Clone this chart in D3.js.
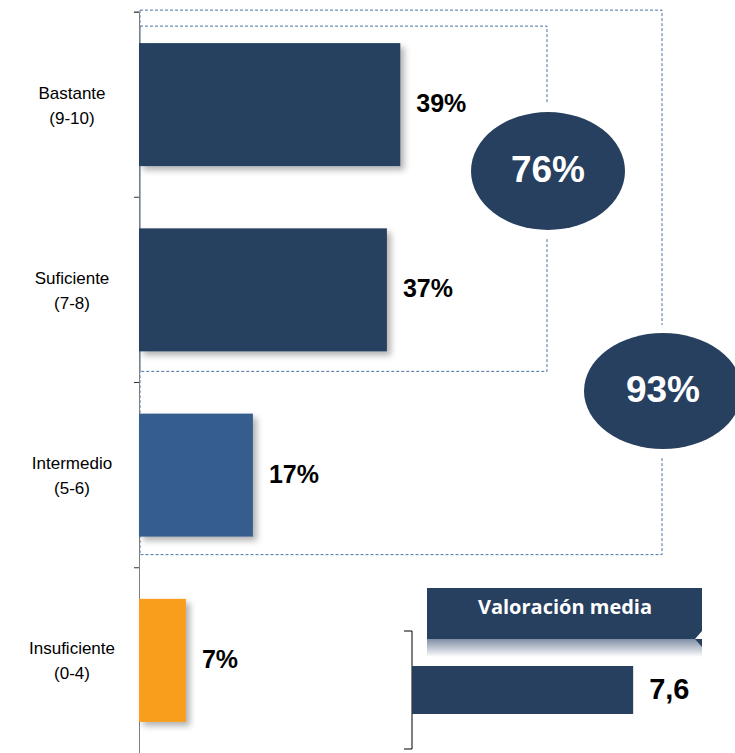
<!DOCTYPE html>
<html><head><meta charset="utf-8">
<script src="https://cdn.jsdelivr.net/npm/d3@7"></script>
<style>body{margin:0;background:#fff}svg{display:block}</style>
</head><body>
<script>
const categories = ["Bastante", "Suficiente", "Intermedio", "Insuficiente"];
const categoryRanges = ["(9-10)", "(7-8)", "(5-6)", "(0-4)"];
const values = [39, 37, 17, 7];
const valueLabels = ["39%", "37%", "17%", "7%"];
const barColors = ["#27405f", "#27405f", "#355d8e", "#f99d1c"];
const groupLabels = ["76%", "93%"];
const groupSizes = [2, 3];
const meanTitle = "Valoración media";
const meanValue = 7.6;
const meanLabel = "7,6";

const W = 735, H = 753;
const svg = d3.select("body").append("svg").attr("width", W).attr("height", H);
const defs = svg.append("defs");
const f = defs.append("filter").attr("id","sh").attr("x","-10%").attr("y","-10%").attr("width","130%").attr("height","130%");
f.append("feDropShadow").attr("dx",4).attr("dy",4).attr("stdDeviation",3).attr("flood-color","#000").attr("flood-opacity",0.3);
const g = defs.append("linearGradient").attr("id","refl").attr("x1",0).attr("y1",0).attr("x2",0).attr("y2",1);
g.append("stop").attr("offset","0%").attr("stop-color","#7f8ea6");
g.append("stop").attr("offset","100%").attr("stop-color","#ffffff");

const y = d3.scaleBand().domain(categories).range([12, 753]).paddingInner(0.336).paddingOuter(0.168);
const x = d3.scaleLinear().domain([0, 100]).range([139, 809]);

// dashed group boxes
const dash = "#4a72a8";
const boxRight = [547, 662];
groupSizes.forEach((n, i) => {
  const top = y(categories[0]) - (i === 0 ? 17 : 33);
  const last = categories[n - 1];
  const bottom = y(last) + y.bandwidth() + (i === 0 ? 20 : 18);
  svg.append("path")
    .attr("d", `M${x(0)+1},${top}H${boxRight[i]}V${bottom}H${x(0)+1}Z`)
    .attr("fill","none").attr("stroke",dash).attr("stroke-width",1).attr("stroke-dasharray","3,2");
});

// axis
const axis = d3.axisLeft(y).tickSize(5).tickFormat("");
const ax = svg.append("g").attr("transform",`translate(${x(0)},0)`).call(axis);
ax.select(".domain").attr("stroke","#808080");
ax.selectAll(".tick").remove();
[12, 12+y.step(), 12+2*y.step(), 12+3*y.step()].forEach(t => {
  ax.append("line").attr("x1",-5).attr("x2",0).attr("y1",t).attr("y2",t).attr("stroke","#333");
});

// bars
svg.selectAll("rect.bar").data(values).join("rect").attr("class","bar")
  .attr("x", x(0)).attr("y", (d,i)=>y(categories[i]))
  .attr("width", d => x(d)-x(0)).attr("height", y.bandwidth())
  .attr("fill", (d,i)=>barColors[i]).attr("filter","url(#sh)");

svg.selectAll("text.val").data(values).join("text").attr("class","val")
  .attr("x", d => x(d) + 16).attr("y", (d,i)=>y(categories[i]) + y.bandwidth()/2 + 1)
  .attr("dominant-baseline","middle")
  .attr("font-family","Liberation Sans, Arial, sans-serif").attr("font-weight","bold").attr("font-size",25)
  .attr("fill","#000").text((d,i)=>valueLabels[i]);

// category labels
categories.forEach((c,i) => {
  const cy = y(c) + y.bandwidth()/2;
  const t = svg.append("text").attr("text-anchor","middle")
    .attr("font-family","Liberation Sans, Arial, sans-serif").attr("font-size",17).attr("fill","#000");
  t.append("tspan").attr("x",72).attr("y",cy-6).text(c);
  t.append("tspan").attr("x",72).attr("y",cy+19).text(categoryRanges[i]);
});

// ellipses
const ell = [{cx:548, cy:171, rx:77, ry:59}, {cx:663, cy:391, rx:79, ry:58}];
groupLabels.forEach((lab,i) => {
  const e = ell[i];
  svg.append("ellipse").attr("cx",e.cx).attr("cy",e.cy).attr("rx",e.rx+6).attr("ry",e.ry+8).attr("fill","#fff");
  svg.append("ellipse").attr("cx",e.cx).attr("cy",e.cy).attr("rx",e.rx).attr("ry",e.ry).attr("fill","#27405f");
  svg.append("text").attr("x",e.cx).attr("y",e.cy+1).attr("text-anchor","middle").attr("dominant-baseline","middle")
    .attr("font-family","Liberation Sans, Arial, sans-serif").attr("font-weight","bold").attr("font-size",37)
    .attr("fill","#fff").text(lab);
});

// mean panel
const mx = d3.scaleLinear().domain([0, 10]).range([412, 703]);
svg.append("rect").attr("x",427).attr("y",639).attr("width",275).attr("height",18).attr("fill","url(#refl)");
svg.append("path").attr("d","M427,588H702V631L695,639L702,647V639H427Z").attr("fill","#27405f");
svg.append("text").attr("x",565).attr("y",609).attr("text-anchor","middle").attr("dominant-baseline","middle")
  .attr("font-family","Open Sans, sans-serif").attr("font-weight","bold").attr("font-size",20)
  .attr("fill","#fff").text(meanTitle);
svg.append("path").attr("d","M404,631H412V749H404").attr("fill","none").attr("stroke","#000").attr("stroke-width",1);
svg.append("rect").attr("x",mx(0)).attr("y",666).attr("width",mx(meanValue)-mx(0)).attr("height",48).attr("fill","#27405f");
svg.append("text").attr("x",mx(meanValue)+16).attr("y",691).attr("dominant-baseline","middle")
  .attr("font-family","Liberation Sans, Arial, sans-serif").attr("font-weight","bold").attr("font-size",29)
  .attr("fill","#000").text(meanLabel);
</script>
</body></html>
